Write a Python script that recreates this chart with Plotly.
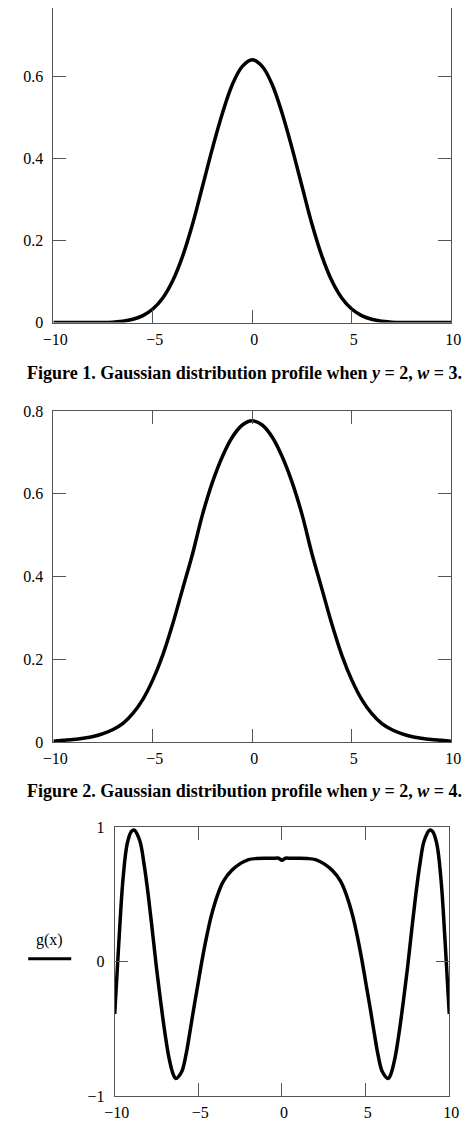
import plotly.graph_objects as go

W, H = 476, 1146

# ---- data ----
x1 = [-10, -9, -8, -7.5, -7, -6.5, -6, -5.5, -5, -4.5, -4, -3.5, -3, -2.5, -2, -1.5, -1, -0.5,
      0, 0.5, 1, 1.5, 2, 2.5, 3, 3.5, 4, 4.5, 5, 5.5, 6, 6.5, 7, 7.5, 8, 9, 10]
y1 = [0, 0, 0, 0, 0.001, 0.003, 0.008, 0.017, 0.033, 0.060, 0.102, 0.162, 0.240, 0.332, 0.425, 0.510, 0.580, 0.624,
      0.640, 0.624, 0.580, 0.510, 0.425, 0.332, 0.240, 0.162, 0.102, 0.060, 0.033, 0.017, 0.008, 0.003, 0.001, 0, 0, 0, 0]

x2 = [-10, -9.5, -9, -8.5, -8, -7.5, -7, -6.5, -6, -5.5, -5, -4.5, -4, -3.5, -3, -2.5, -2, -1.5, -1, -0.5,
      0, 0.5, 1, 1.5, 2, 2.5, 3, 3.5, 4, 4.5, 5, 5.5, 6, 6.5, 7, 7.5, 8, 8.5, 9, 9.5, 10]
y2 = [0.002, 0.004, 0.006, 0.009, 0.013, 0.020, 0.030, 0.045, 0.069, 0.103, 0.150, 0.210, 0.285, 0.370, 0.455, 0.550, 0.628, 0.690, 0.737, 0.766,
      0.776, 0.766, 0.737, 0.690, 0.628, 0.550, 0.455, 0.370, 0.285, 0.210, 0.150, 0.103, 0.069, 0.045, 0.030, 0.020, 0.013, 0.009, 0.006, 0.004, 0.002]

x3 = [-10, -9.75, -9.5, -9.25, -9, -8.83, -8.5, -8.25, -8, -7.75, -7.5, -7.25, -7, -6.75, -6.5, -6.35, -6, -5.75,
      -5.5, -5.25, -5, -4.75, -4.5, -4.25, -4, -3.75, -3.5, -3, -2.5, -2, -1.5, -1, -0.5, -0.2,
      0, 0.2, 0.5, 1, 1.5, 2, 2.5, 3, 3.5, 3.75, 4, 4.25, 4.5, 4.75, 5, 5.25, 5.5,
      5.75, 6, 6.35, 6.5, 6.75, 7, 7.25, 7.5, 7.75, 8, 8.25, 8.5, 8.83, 9, 9.25, 9.5, 9.75, 10]
y3 = [-0.39, 0.15, 0.62, 0.88, 0.97, 0.98, 0.90, 0.73, 0.50, 0.23, -0.05, -0.30, -0.53, -0.72, -0.84, -0.87, -0.82, -0.70,
      -0.52, -0.33, -0.15, 0.03, 0.19, 0.33, 0.44, 0.53, 0.60, 0.68, 0.73, 0.76, 0.768, 0.77, 0.77, 0.77,
      0.755, 0.77, 0.77, 0.77, 0.768, 0.76, 0.73, 0.68, 0.60, 0.53, 0.44, 0.33, 0.19, 0.03, -0.15, -0.33, -0.52,
      -0.70, -0.82, -0.87, -0.84, -0.72, -0.53, -0.30, -0.05, 0.23, 0.50, 0.73, 0.90, 0.98, 0.97, 0.88, 0.62, 0.15, -0.39]

xticks = [-10, -5, 0, 5, 10]
xticklabels = ["\u221210", "\u22125", "0", "5", "10"]
y1ticks = [0, 0.2, 0.4, 0.6]
y1labels = ["0", "0.2", "0.4", "0.6"]
y2ticks = [0, 0.2, 0.4, 0.6, 0.8]
y2labels = ["0", "0.2", "0.4", "0.6", "0.8"]
y3ticks = [-1, 0, 1]
y3labels = ["\u22121", "0", "1"]

captions = ["<b>Figure 1. Gaussian distribution profile when <i>y</i> = 2, <i>w</i> = 3.</b>",
            "<b>Figure 2. Gaussian distribution profile when <i>y</i> = 2, <i>w</i> = 4.</b>"]
legend_label = "g(x)"

FONT = "Liberation Serif"
AX = "#555555"


def px_x(p):
    return p / W


def px_y(p):
    return 1 - p / H


fig = go.Figure()
line = dict(color="black", width=3.5, shape="spline", smoothing=1.0)
fig.add_trace(go.Scatter(x=x1, y=y1, mode="lines", line=line, xaxis="x", yaxis="y", showlegend=False))
fig.add_trace(go.Scatter(x=x2, y=y2, mode="lines", line=line, xaxis="x2", yaxis="y2", showlegend=False))
fig.add_trace(go.Scatter(x=x3, y=y3, mode="lines", line=line, xaxis="x3", yaxis="y3", showlegend=False))

tickfont = dict(family=FONT, size=16, color="black")


def xax(domain, anchor, mirror):
    return dict(domain=domain, anchor=anchor, range=[-10, 10], tickvals=xticks, ticktext=xticklabels,
                ticks="inside", ticklen=13, tickcolor=AX, tickwidth=1, showline=True, linecolor=AX,
                linewidth=1, mirror=mirror, showgrid=False, zeroline=False, tickfont=tickfont,
                ticklabelshift=2, ticklabelstandoff=2, fixedrange=True)


def yax(domain, anchor, rng, vals, labels):
    return dict(domain=domain, anchor=anchor, range=rng, tickvals=vals, ticktext=labels,
                ticks="inside", ticklen=13, tickcolor=AX, tickwidth=1, showline=True, linecolor=AX,
                linewidth=1, mirror="ticks", showgrid=False, zeroline=False, tickfont=tickfont,
                ticklabelstandoff=6, fixedrange=True)


# panel geometry (pixels)
p1 = dict(l=44.3, r=460.5, b=319.3)
p1_scale = 416.7
p2 = dict(l=44.3, r=460.5, t=409, b=745)
p3 = dict(l=108.5, r=458.5, t=831.7, b=1104.3)

fig.update_layout(
    width=W, height=H, margin=dict(l=0, r=0, t=0, b=0),
    paper_bgcolor="white", plot_bgcolor="white",
    xaxis=xax([px_x(p1["l"]), px_x(p1["r"])], "y", False),
    yaxis=yax([px_y(p1["b"]), 1], "x", [0, p1["b"] / p1_scale], y1ticks, y1labels),
    xaxis2=xax([px_x(p2["l"]), px_x(p2["r"])], "y2", "ticks"),
    yaxis2=yax([px_y(p2["b"]), px_y(p2["t"])], "x2", [0, 0.8], y2ticks, y2labels),
    xaxis3=xax([px_x(p3["l"]), px_x(p3["r"])], "y3", "ticks"),
    yaxis3=yax([px_y(p3["b"]), px_y(p3["t"])], "x3", [-1, 1], y3ticks, y3labels),
)

# captions
for txt, ypix in zip(captions, [371, 795]):
    fig.add_annotation(text=txt, xref="paper", yref="paper", x=px_x(244), y=px_y(ypix),
                       xanchor="center", yanchor="middle", showarrow=False,
                       font=dict(family=FONT, size=18, color="black"))

# legend
fig.add_annotation(text=legend_label, xref="paper", yref="paper", x=px_x(40), y=px_y(946),
                   xanchor="center", yanchor="middle", showarrow=False,
                   font=dict(family=FONT, size=16, color="black"))
fig.add_shape(type="line", xref="paper", yref="paper", x0=px_x(18), x1=px_x(63),
              y0=px_y(965), y1=px_y(965), line=dict(color="black", width=3))

fig.write_html("out.html")
